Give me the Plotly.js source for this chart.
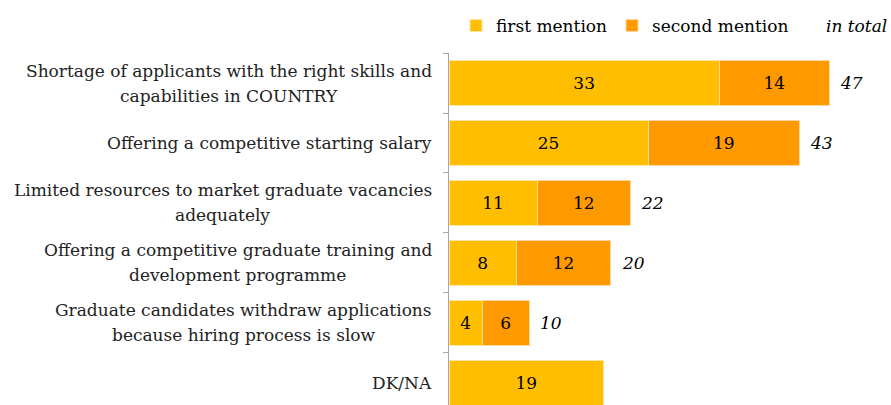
<!DOCTYPE html>
<html>
<head>
<meta charset="utf-8">
<script src="https://cdn.plot.ly/plotly-3.0.1.min.js"></script>
<style>body{margin:0;background:#fff}</style>
</head>
<body>
<div id="chart" style="width:891px;height:405px"></div>
<script type="text/javascript">
var categories = [
    "Shortage of applicants with the right skills and<br>capabilities in COUNTRY",
    "Offering a competitive starting salary",
    "Limited resources to market graduate vacancies<br>adequately",
    "Offering a competitive graduate training and<br>development programme",
    "Graduate candidates withdraw applications<br>because hiring process is slow",
    "DK/NA"
];
// bar lengths (labels are the rounded figures shown)
var firstMention = [33.4, 24.6, 10.9, 8.3, 4.1, 19.1];
var secondMention = [13.6, 18.7, 11.5, 11.7, 5.8, null];
var firstLabels = ['33', '25', '11', '8', '4', '19'];
var secondLabels = ['14', '19', '12', '12', '6', ''];
var totals = [47, 43, 22, 20, 10, null];

var FONT = "'DejaVu Serif', 'Liberation Serif', serif";
var FS = 17;
var ID = document.getElementById('chart');

var data = [
    {
        type: 'bar', orientation: 'h', name: 'first mention', legend: 'legend',
        y: categories, x: firstMention, text: firstLabels,
        textposition: 'inside', insidetextanchor: 'middle', constraintext: 'none',
        textfont: {family: FONT, size: FS, color: '#000'},
        marker: {color: '#FFBF00', line: {color: '#FFE6A0', width: 1}},
        hoverinfo: 'x+y'
    },
    {
        type: 'bar', orientation: 'h', name: 'second mention', legend: 'legend2',
        y: categories, x: secondMention, text: secondLabels,
        textposition: 'inside', insidetextanchor: 'middle', constraintext: 'none',
        textfont: {family: FONT, size: FS, color: '#000'},
        marker: {color: '#FF9900', line: {color: '#FFD9A0', width: 1}},
        hoverinfo: 'x+y'
    }
];

// measure label lines so each wrapped label stays centred in its block
var ctx = document.createElement('canvas').getContext('2d');
ctx.font = FS + "px " + FONT;
var annotations = [];
categories.forEach(function (cat, i) {
    var lines = cat.split('<br>');
    var w = Math.max.apply(null, lines.map(function (l) { return ctx.measureText(l).width; }));
    lines.forEach(function (line, j) {
        annotations.push({
            xref: 'paper', yref: 'y', x: 0, y: cat,
            xanchor: 'center', yanchor: 'middle',
            xshift: -17 - w / 2,
            yshift: (lines.length - 1) * 12.5 - j * 25,
            text: line, showarrow: false,
            font: {family: FONT, size: FS, color: '#222'}
        });
    });
    if (totals[i] != null) {
        annotations.push({
            xref: 'x', yref: 'y', x: firstMention[i] + secondMention[i], y: cat,
            xanchor: 'left', yanchor: 'middle', xshift: 9,
            text: '<i>' + totals[i] + '</i>', showarrow: false,
            font: {family: FONT, size: FS, color: '#000'}
        });
    }
});
annotations.push({
    xref: 'paper', yref: 'paper', x: 1.0069, y: 1.0767,
    xanchor: 'right', yanchor: 'middle',
    text: '<i>in total</i>', showarrow: false,
    font: {family: FONT, size: FS, color: '#000'}
});

function legendAt(px) {
    return {
        orientation: 'h', xref: 'container', yref: 'container',
        x: px / 891, y: 1 - 26 / 405, xanchor: 'left', yanchor: 'middle',
        font: {family: FONT, size: FS, color: '#000'},
        itemwidth: 30, bgcolor: 'rgba(0,0,0,0)'
    };
}

var layout = {
    width: 891, height: 405,
    margin: {l: 449, r: 5, t: 53, b: 0, pad: 0},
    barmode: 'stack', bargap: 0.24,
    paper_bgcolor: '#fff', plot_bgcolor: '#fff',
    font: {family: FONT, size: FS, color: '#000'},
    showlegend: true,
    legend: legendAt(456),
    legend2: legendAt(612),
    xaxis: {range: [0, 54], visible: false, fixedrange: true},
    yaxis: {
        type: 'category', range: [5.367, -0.5], autorange: false,
        showticklabels: false, tickson: 'boundaries',
        ticks: 'outside', ticklen: 5, tickcolor: '#a6a6a6',
        showline: true, linecolor: '#a6a6a6', linewidth: 1,
        showgrid: false, zeroline: false, fixedrange: true
    },
    annotations: annotations
};

Plotly.newPlot(ID, data, layout, {displayModeBar: false, staticPlot: true});
</script>
</body>
</html>
